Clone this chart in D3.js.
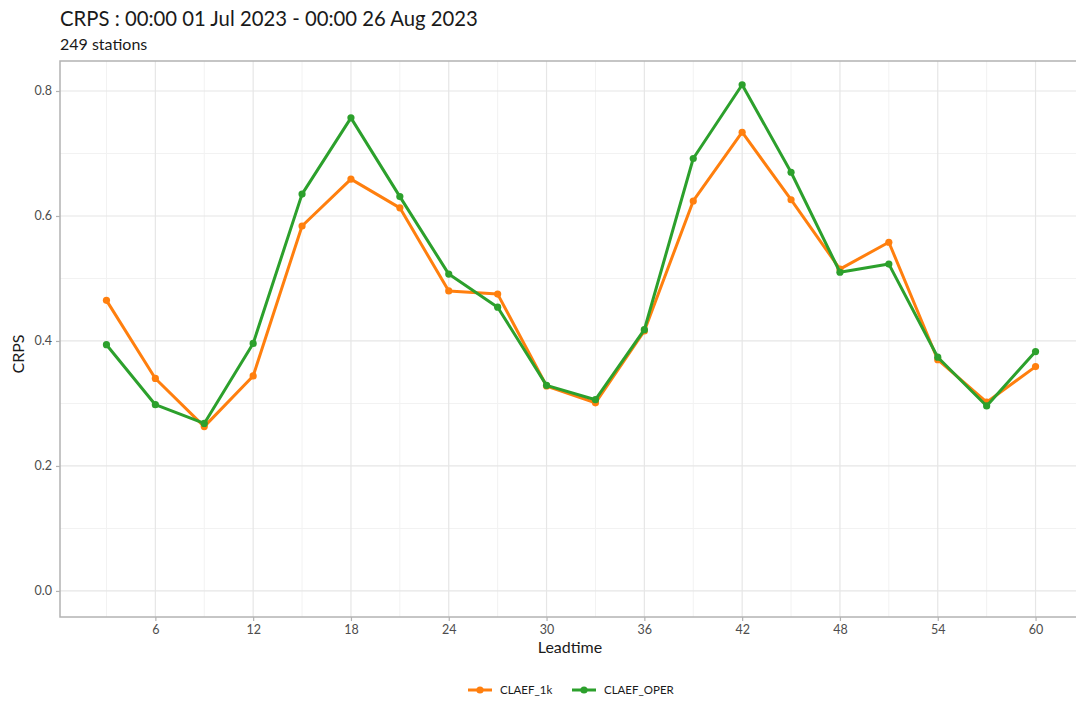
<!DOCTYPE html>
<html><head><meta charset="utf-8">
<script src="https://cdn.jsdelivr.net/npm/d3@7"></script>
<style>body{margin:0;background:#fff}svg{display:block;font-family:Lato,"Open Sans",sans-serif}</style>
</head><body><svg id="c" width="1076" height="701"></svg>
<script>
const leadtimes = [3,6,9,12,15,18,21,24,27,30,33,36,39,42,45,48,51,54,57,60];
const claef1k = [0.465,0.340,0.263,0.344,0.584,0.659,0.613,0.480,0.475,0.328,0.301,0.416,0.624,0.734,0.626,0.515,0.558,0.370,0.302,0.359];
const claefOper = [0.394,0.298,0.268,0.396,0.635,0.757,0.631,0.507,0.454,0.329,0.306,0.418,0.692,0.810,0.670,0.510,0.523,0.374,0.296,0.383];
const seriesNames = ["CLAEF_1k","CLAEF_OPER"];
const seriesColors = ["#ff7f0e","#2ca02c"];
const xTicks = [6,12,18,24,30,36,42,48,54,60];
const yTicks = [0.0,0.2,0.4,0.6,0.8];

const svg = d3.select("#c");
const L=60, R=1082, T=61, B=617;
const x = d3.scaleLinear().domain([0.15,62.85]).range([L,R]);
const y = d3.scaleLinear().domain([-0.0417,0.848]).range([B,T]);

// gridlines
const g = svg.append("g");
const minorX = d3.range(3,63,6);
const minorY = [0.1,0.3,0.5,0.7];
g.selectAll(".mx").data(minorX).join("line").attr("x1",d=>x(d)).attr("x2",d=>x(d)).attr("y1",T).attr("y2",B).attr("stroke","#f2f2f2").attr("stroke-width",1);
g.selectAll(".my").data(minorY).join("line").attr("x1",L).attr("x2",R).attr("y1",d=>y(d)).attr("y2",d=>y(d)).attr("stroke","#f2f2f2").attr("stroke-width",1);
g.selectAll(".Mx").data(xTicks).join("line").attr("x1",d=>x(d)).attr("x2",d=>x(d)).attr("y1",T).attr("y2",B).attr("stroke","#e6e6e6").attr("stroke-width",1.2);
g.selectAll(".My").data(yTicks).join("line").attr("x1",L).attr("x2",R).attr("y1",d=>y(d)).attr("y2",d=>y(d)).attr("stroke","#e6e6e6").attr("stroke-width",1.2);
// panel border
svg.append("rect").attr("x",L).attr("y",T).attr("width",R-L).attr("height",B-T).attr("fill","none").attr("stroke","#b3b3b3").attr("stroke-width",1.5);

// axes
const xAxis = svg.append("g").attr("transform",`translate(0,${B})`).call(d3.axisBottom(x).tickValues(xTicks).tickSize(4).tickPadding(4).tickFormat(d3.format("d")));
const yAxis = svg.append("g").attr("transform",`translate(${L},0)`).call(d3.axisLeft(y).tickValues(yTicks).tickSize(4).tickPadding(4).tickFormat(d3.format(".1f")));
[xAxis,yAxis].forEach(a=>{a.select(".domain").remove();a.selectAll(".tick line").attr("stroke","#b3b3b3").attr("stroke-width",1.2);a.selectAll("text").attr("fill","#4d4d4d").style("font-size","12.5px").style("font-family","Lato");});

// series
const data = [claef1k, claefOper];
const line = d3.line().x((d,i)=>x(leadtimes[i])).y(d=>y(d));
data.forEach((s,k)=>{
  svg.append("path").datum(s).attr("d",line).attr("fill","none").attr("stroke",seriesColors[k]).attr("stroke-width",3).attr("stroke-linejoin","round");
  svg.append("g").selectAll("circle").data(s).join("circle").attr("cx",(d,i)=>x(leadtimes[i])).attr("cy",d=>y(d)).attr("r",3.6).attr("fill",seriesColors[k]);
});

// titles
svg.append("text").attr("x",60).attr("y",26).text("CRPS : 00:00 01 Jul 2023 - 00:00 26 Aug 2023").style("font-size","20.3px").attr("fill","#1a1a1a");
svg.append("text").attr("x",60).attr("y",50).text("249 stations").style("font-size","16px").attr("fill","#1a1a1a");
svg.append("text").attr("x",570).attr("y",653).attr("text-anchor","middle").text("Leadtime").style("font-size","16px").attr("fill","#1a1a1a");
svg.append("text").attr("transform",`translate(24,${(T+B)/2+15}) rotate(-90)`).attr("text-anchor","middle").text("CRPS").style("font-size","16px").attr("fill","#1a1a1a");

// legend
const lx = [468, 572];
seriesNames.forEach((n,k)=>{
  const lg = svg.append("g").attr("transform",`translate(${lx[k]},690)`);
  lg.append("line").attr("x1",0).attr("x2",24).attr("y1",0).attr("y2",0).attr("stroke",seriesColors[k]).attr("stroke-width",3);
  lg.append("circle").attr("cx",12).attr("cy",0).attr("r",3.6).attr("fill",seriesColors[k]);
  lg.append("text").attr("x",32).attr("y",4).text(n).style("font-size","11.5px").attr("fill","#1a1a1a");
});
</script></body></html>
